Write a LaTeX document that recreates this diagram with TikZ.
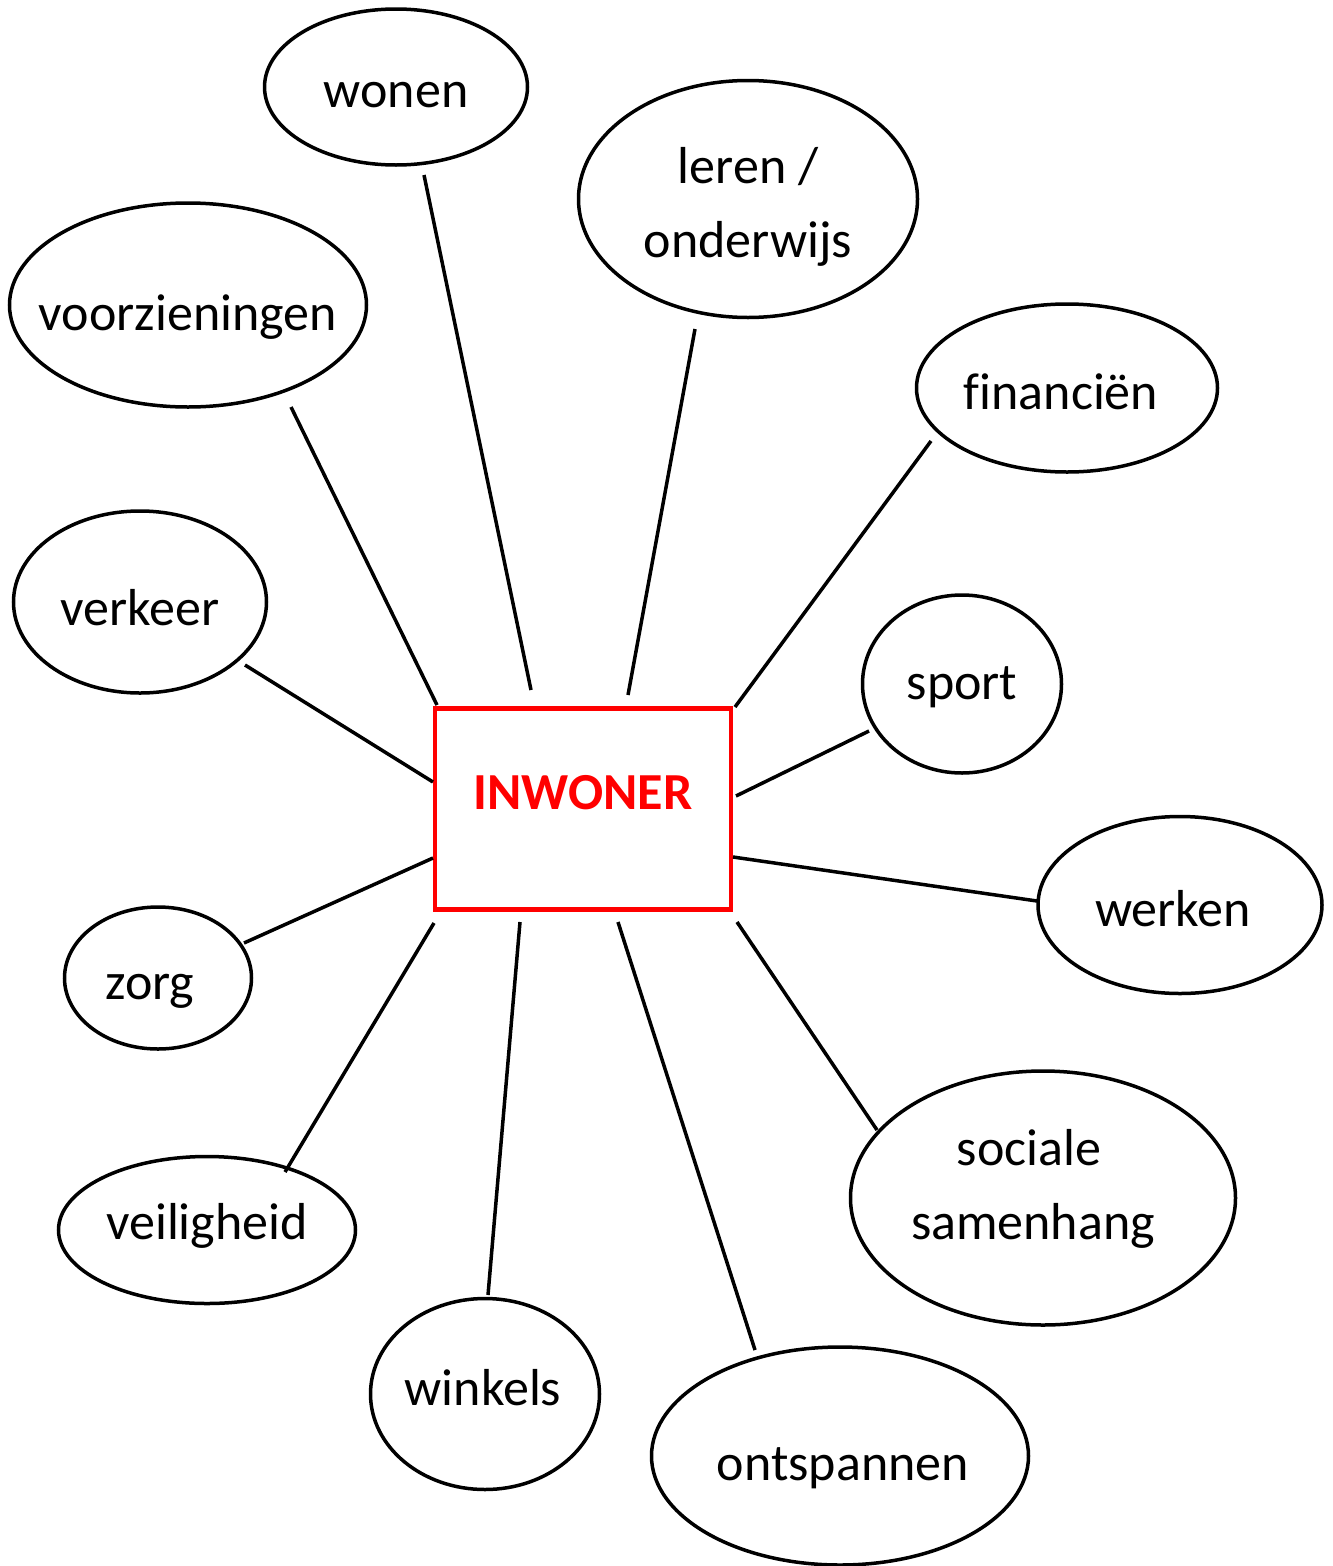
\documentclass[tikz,border=0pt]{standalone}
\usepackage{fontspec}
\setmainfont{Carlito}[Ligatures=NoCommon]
\usepackage{tikz}
\usetikzlibrary{shapes, positioning, calc}
\definecolor{inwonerred}{RGB}{255, 0, 0}

\begin{document}
\begin{tikzpicture}[x=1pt, y=-1pt,
    theme/.style={draw, ellipse, line width=3.5pt, inner sep=0pt},
    themetext/.style={align=center, inner sep=0pt, font=\fontsize{52}{74}\selectfont},
    spoke/.style={line width=3.5pt}]
  \useasboundingbox (0,0) rectangle (1333,1566);

  % centrum
  \node[draw=inwonerred, line width=4.5pt, minimum width=296pt, minimum height=201pt,
    inner sep=0pt] (inwoner) at (583,809) {};
  \node[text=inwonerred, font=\fontsize{52}{60}\selectfont\bfseries] (inwonerlabel) at (583,793) {INWONER};

  % thema's
  \node[theme, minimum width=263pt, minimum height=156pt,
    label={[themetext, yshift=-8pt]center:wonen}] (wonen) at (396,87) {};
  \node[theme, minimum width=339pt, minimum height=237pt,
    label={[themetext, yshift=-8pt]center:leren /\\onderwijs}] (leren) at (748,199) {};
  \node[theme, minimum width=357pt, minimum height=204pt,
    label={[themetext, yshift=-12pt]center:voorzieningen}] (voorz) at (188,305) {};
  \node[theme, minimum width=301pt, minimum height=168pt,
    label={[themetext, yshift=-4pt, xshift=-6pt]center:financiën}] (financien) at (1067,388) {};
  \node[theme, minimum width=253pt, minimum height=182pt,
    label={[themetext, yshift=-6pt]center:verkeer}] (verkeer) at (140,602) {};
  \node[theme, minimum width=199pt, minimum height=178pt,
    label={[themetext, yshift=-3pt]center:sport}] (sport) at (962,684) {};
  \node[theme, minimum width=284pt, minimum height=177pt,
    label={[themetext, yshift=-4pt, xshift=-7pt]center:werken}] (werken) at (1180,905) {};
  \node[theme, minimum width=187pt, minimum height=142pt,
    label={[themetext, yshift=-13pt, xshift=-8pt]center:zorg}] (zorg) at (158,978) {};
  \node[theme, minimum width=297pt, minimum height=147pt,
    label={[themetext, yshift=4pt]center:veiligheid}] (veiligheid) at (207,1230) {};
  \node[theme, minimum width=229pt, minimum height=191pt,
    label={[themetext, yshift=6pt, xshift=-2pt]center:winkels}] (winkels) at (485,1394) {};
  \node[theme, minimum width=377pt, minimum height=218pt,
    label={[themetext, yshift=-12pt, xshift=3pt]center:ontspannen}] (ontspannen) at (840,1456) {};
  \node[theme, minimum width=385pt, minimum height=254pt,
    label={[themetext, yshift=9pt, xshift=-10pt]center:\hspace*{-8pt}sociale\\samenhang}] (sociaal) at (1043,1198) {};

  % losse eindpunten van de lijnen
  \coordinate (c-wonen) at (424,175);   \coordinate (b-wonen) at (531,690);
  \coordinate (c-leren) at (695,329);   \coordinate (b-leren) at (628,695);
  \coordinate (c-voorz) at (291,407);   \coordinate (b-voorz) at (437,705);
  \coordinate (c-fin) at (931,441);     \coordinate (b-fin) at (735,707);
  \coordinate (c-verkeer) at (245,665); \coordinate (b-verkeer) at (433,782);
  \coordinate (c-sport) at (869,731);   \coordinate (b-sport) at (736,796);
  \coordinate (c-werken) at (1037,901); \coordinate (b-werken) at (733,857);
  \coordinate (c-zorg) at (244,943);    \coordinate (b-zorg) at (433,858);
  \coordinate (c-veilig) at (285,1172); \coordinate (b-veilig) at (434,923);
  \coordinate (c-winkels) at (488,1295);\coordinate (b-winkels) at (520,922);
  \coordinate (c-ontsp) at (755,1350);  \coordinate (b-ontsp) at (618,922);
  \coordinate (c-sociaal) at (877,1130);\coordinate (b-sociaal) at (737,922);

  \foreach \e in {wonen, leren, voorz, fin, verkeer, sport, werken, zorg, veilig, winkels, ontsp, sociaal}
    \draw[spoke] (c-\e) -- (b-\e);
\end{tikzpicture}
\end{document}
